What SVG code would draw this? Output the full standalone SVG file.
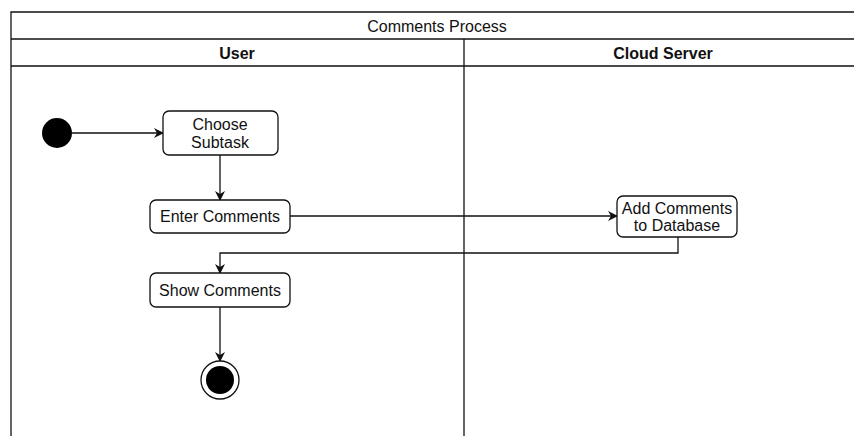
<svg xmlns="http://www.w3.org/2000/svg" width="854" height="436" viewBox="0 0 854 436">
<defs>
<style>
text{font-family:"Liberation Sans",Arial,sans-serif;font-size:16px;fill:#111;text-anchor:middle;dominant-baseline:central}
.hdr{font-weight:bold}
.frame{fill:none;stroke:#111;stroke-width:1.3}
.node{fill:#fff;stroke:#111;stroke-width:1.3}
.edge{fill:none;stroke:#111;stroke-width:1.3;marker-end:url(#arr)}
</style>
<marker id="arr" viewBox="0 0 10 10" refX="9" refY="5" markerWidth="10" markerHeight="10" markerUnits="userSpaceOnUse" orient="auto">
<path d="M0,0 L10,5 L0,10 L3,5 Z" fill="#111"/>
</marker>
</defs>
<rect width="854" height="436" fill="#fff"/>
<g id="pool">
<path class="frame" d="M11,440 V12 H862 V440"/>
<line class="frame" x1="11" y1="39" x2="862" y2="39"/>
<line class="frame" x1="11" y1="66" x2="862" y2="66"/>
<line class="frame" x1="464" y1="39" x2="464" y2="440"/>
<text x="437" y="26">Comments Process</text>
<text class="hdr" x="237" y="53">User</text>
<text class="hdr" x="663" y="53">Cloud Server</text>
</g>
<g id="connectors">
<line class="edge" x1="72" y1="133" x2="163" y2="133"/>
<line class="edge" x1="220" y1="155" x2="220" y2="200"/>
<line class="edge" x1="290" y1="216" x2="617" y2="216"/>
<polyline class="edge" points="678,237 678,253 220,253 220,273"/>
<line class="edge" x1="220" y1="307" x2="220" y2="361"/>
</g>
<g id="start"><circle cx="57" cy="133" r="15" fill="#000"/></g>
<g id="choose"><rect class="node" x="163" y="111" width="115" height="44" rx="6"/><text x="220" y="124">Choose</text><text x="220" y="142">Subtask</text></g>
<g id="enter"><rect class="node" x="150" y="200" width="140" height="33" rx="6"/><text x="220" y="216.5">Enter Comments</text></g>
<g id="add"><rect class="node" x="617" y="196" width="120" height="41" rx="6"/><text x="677" y="208">Add Comments</text><text x="677" y="225">to Database</text></g>
<g id="show"><rect class="node" x="150" y="273" width="140" height="34" rx="6"/><text x="220" y="290">Show Comments</text></g>
<g id="end"><circle cx="220" cy="380" r="19" fill="#fff" stroke="#111" stroke-width="1.3"/><circle cx="220" cy="380" r="14" fill="#000"/></g>
</svg>
